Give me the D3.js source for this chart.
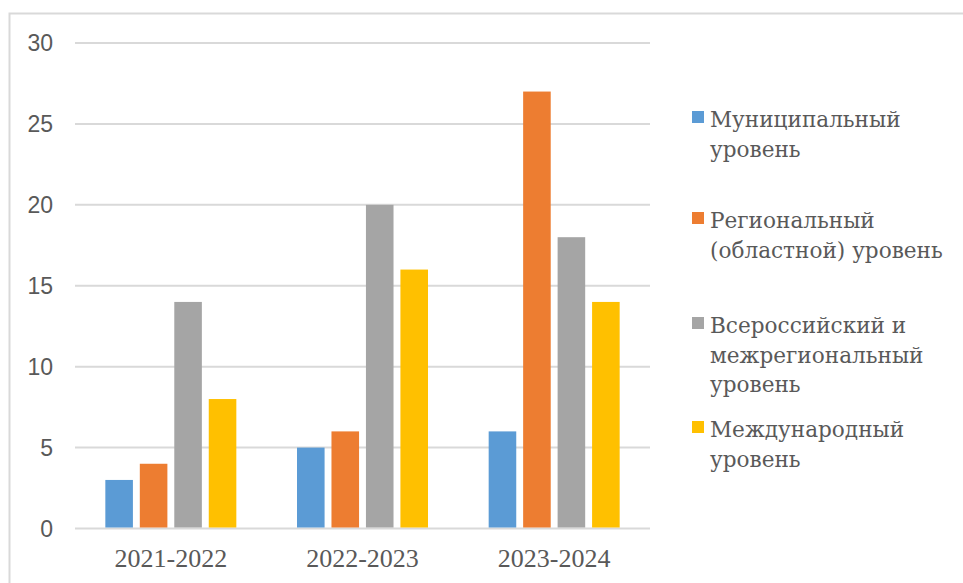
<!DOCTYPE html>
<html>
<head>
<meta charset="utf-8">
<script src="https://cdn.jsdelivr.net/npm/d3@7"></script>
<style>
  body { margin: 0; background: #fff; }
  svg { display: block; }
</style>
</head>
<body>
<div id="root"></div>
<script>
// chart data
const categories = ["2021-2022", "2022-2023", "2023-2024"];
const seriesNames = [
  ["Муниципальный", "уровень"],
  ["Региональный", "(областной) уровень"],
  ["Всероссийский и", "межрегиональный", "уровень"],
  ["Международный", "уровень"]
];
const municipal = [3, 5, 6];
const regional = [4, 6, 27];
const allRussian = [14, 20, 18];
const international = [8, 16, 14];
const yTicks = [0, 5, 10, 15, 20, 25, 30];

const COLOR = ["#5b9bd5", "#ed7d31", "#a5a5a5", "#ffc000"];
const series = [municipal, regional, allRussian, international];

const width = 963, height = 583;
const plot = { left: 75, right: 650, top: 43, bottom: 528.5 };
const SERIF = "'Liberation Serif', 'Times New Roman', serif";
const CYR_SERIF = "'DejaVu Serif', serif";

const svg = d3.select("#root").append("svg")
  .attr("width", width)
  .attr("height", height);

// outer frame (cut off by the window on the right and bottom)
svg.append("rect")
  .attr("x", 9.5).attr("y", 13.5)
  .attr("width", 1000).attr("height", 1000)
  .attr("fill", "none")
  .attr("stroke", "#d9d9d9")
  .attr("stroke-width", 2);

const y = d3.scaleLinear().domain([0, 30]).range([plot.bottom, plot.top]);
const x0 = d3.scaleBand().domain(categories).range([plot.left, plot.right]);
const x1 = d3.scaleBand().domain(d3.range(series.length))
  .range([0, x0.bandwidth()])
  .paddingInner(0.2)
  .paddingOuter(0.88);

// gridlines
svg.append("g")
  .selectAll("line")
  .data(yTicks)
  .enter().append("line")
  .attr("x1", plot.left).attr("x2", plot.right)
  .attr("y1", d => y(d)).attr("y2", d => y(d))
  .attr("stroke", "#d9d9d9")
  .attr("stroke-width", 2);

// y tick labels
svg.append("g")
  .selectAll("text")
  .data(yTicks)
  .enter().append("text")
  .attr("x", 53)
  .attr("y", d => y(d))
  .attr("dy", "0.36em")
  .attr("text-anchor", "end")
  .style("font-family", "'Liberation Sans', Arial, sans-serif")
  .style("font-size", "23px")
  .attr("fill", "#595959")
  .text(d => d);

// bars
const groups = svg.append("g")
  .selectAll("g")
  .data(categories)
  .enter().append("g")
  .attr("transform", d => `translate(${x0(d)},0)`);

groups.selectAll("rect")
  .data((d, ci) => series.map((s, si) => ({ si, v: s[ci] })))
  .enter().append("rect")
  .attr("x", d => x1(d.si))
  .attr("width", x1.bandwidth())
  .attr("y", d => y(d.v))
  .attr("height", d => y(0) - y(d.v) - 1)
  .attr("fill", d => COLOR[d.si]);

// x labels
svg.append("g")
  .selectAll("text")
  .data(categories)
  .enter().append("text")
  .attr("x", d => x0(d) + x0.bandwidth() / 2)
  .attr("y", 567)
  .attr("text-anchor", "middle")
  .style("font-family", SERIF)
  .style("font-size", "26px")
  .attr("fill", "#595959")
  .text(d => d);

// legend
const legendTop = [127, 228, 333, 437];
const legend = svg.append("g");
seriesNames.forEach((lines, i) => {
  legend.append("rect")
    .attr("x", 692).attr("y", legendTop[i] - 16)
    .attr("width", 12).attr("height", 12)
    .attr("fill", COLOR[i]);
  const t = legend.append("text")
    .attr("x", 710).attr("y", legendTop[i])
    .style("font-family", CYR_SERIF)
    .style("font-size", "21.6px")
    .attr("fill", "#595959");
  lines.forEach((l, k) => {
    t.append("tspan").attr("x", 710).attr("dy", k === 0 ? 0 : 29.5).text(l);
  });
});
</script>
</body>
</html>
